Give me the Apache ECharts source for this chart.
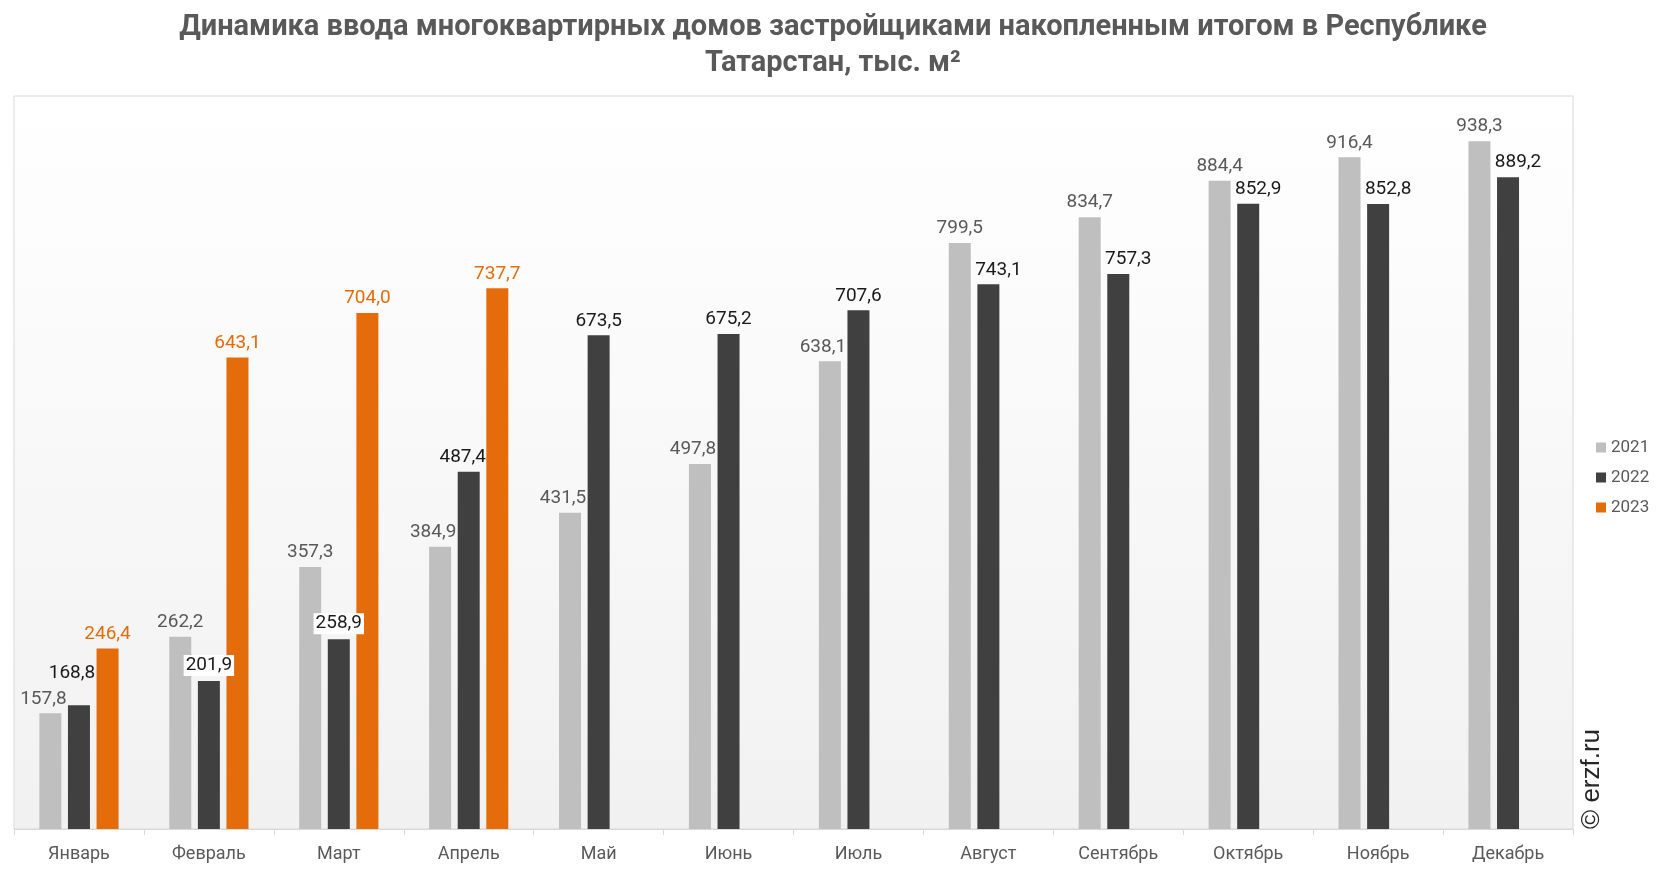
<!DOCTYPE html>
<html><head><meta charset="utf-8">
<script src="https://cdn.jsdelivr.net/npm/echarts@6/dist/echarts.min.js"></script>
<style>html,body{margin:0;padding:0;background:#fff}#c{width:1666px;height:872px}</style>
</head><body><div id="c"></div>
<script>
const months = ['Январь','Февраль','Март','Апрель','Май','Июнь','Июль','Август','Сентябрь','Октябрь','Ноябрь','Декабрь'];
const s2021 = [157.8, 262.2, 357.3, 384.9, 431.5, 497.8, 638.1, 799.5, 834.7, 884.4, 916.4, 938.3];
const s2022 = [168.8, 201.9, 258.9, 487.4, 673.5, 675.2, 707.6, 743.1, 757.3, 852.9, 852.8, 889.2];
const s2023 = [246.4, 643.1, 704.0, 737.7, null, null, null, null, null, null, null, null];
const seriesNames = ['2021','2022','2023'];

const fmt = p => p.value == null ? '' : p.value.toFixed(1).replace('.', ',');
const chart = echarts.init(document.getElementById('c'));
const font = 'Roboto, sans-serif';

function mkSeries(name, data, color, labelColor, extra) {
  return Object.assign({
    name, type: 'bar', data, barWidth: 22, barGap: '30%',
    itemStyle: { color },
    label: { show: true, position: 'top', distance: 5, formatter: fmt, color: labelColor, fontSize: 19, fontFamily: font }
  }, extra || {});
}

// label nudges (layout only)
const shift2021 = { 0: -7, 3: -7, 4: -7, 5: -7, 6: -7 };
const shift2022 = { 3: -6, 7: 10, 8: 10, 9: 10, 10: 10, 11: 10 };

chart.setOption({
  animation: false,
  title: {
    text: 'Динамика ввода многоквартирных домов застройщиками накопленным итогом в Республике\nТатарстан, тыс. м²',
    left: 'center', top: 5,
    textStyle: { fontFamily: font, fontWeight: 'bold', fontSize: 29, color: '#595959', lineHeight: 36 }
  },
  legend: {
    orient: 'vertical', left: 1591, top: 434, itemWidth: 10, itemHeight: 10, itemGap: 13,
    icon: 'rect', data: seriesNames,
    textStyle: { fontFamily: font, fontSize: 17, color: '#595959' }
  },
  grid: {
    left: 14, right: 93, top: 96, bottom: 43, show: true,
    borderColor: '#d9d9d9', borderWidth: 1,
    backgroundColor: new echarts.graphic.LinearGradient(0, 0, 0, 1, [
      { offset: 0, color: '#ffffff' }, { offset: 1, color: '#f1f1f1' }
    ])
  },
  xAxis: {
    type: 'category', data: months, boundaryGap: true,
    axisLine: { lineStyle: { color: '#d9d9d9', width: 1 } },
    axisTick: { show: true, length: 6, lineStyle: { color: '#d9d9d9' } },
    axisLabel: { fontFamily: font, fontSize: 18, color: '#595959', margin: 16 }
  },
  yAxis: { type: 'value', min: 0, max: 1000, show: false, splitLine: { show: false } },
  graphic: [{
    type: 'text', x: 1592, y: 829, rotation: Math.PI / 2,
    style: { text: '© erzf.ru', fontFamily: 'Liberation Sans, Arial, sans-serif', fontSize: 26, fill: '#262626', textAlign: 'left', textVerticalAlign: 'middle' }
  }],
  series: [
    mkSeries('2021', s2021, '#bfbfbf', '#595959', {
      labelLayout: p => ({ dx: shift2021[p.dataIndex] || 0 })
    }),
    mkSeries('2022', s2022.map((v, i) => {
      if (i === 1 || i === 2) return { value: v, label: { backgroundColor: '#ffffff', padding: [1, 2] } };
      return v;
    }), '#404040', '#1a1a1a', {
      labelLayout: p => p.dataIndex === 0 ? { dx: -7, dy: -18 } : { dx: shift2022[p.dataIndex] || 0 }
    }),
    mkSeries('2023', s2023, '#e46c0a', '#e46c0a', {})
  ]
});
</script></body></html>
